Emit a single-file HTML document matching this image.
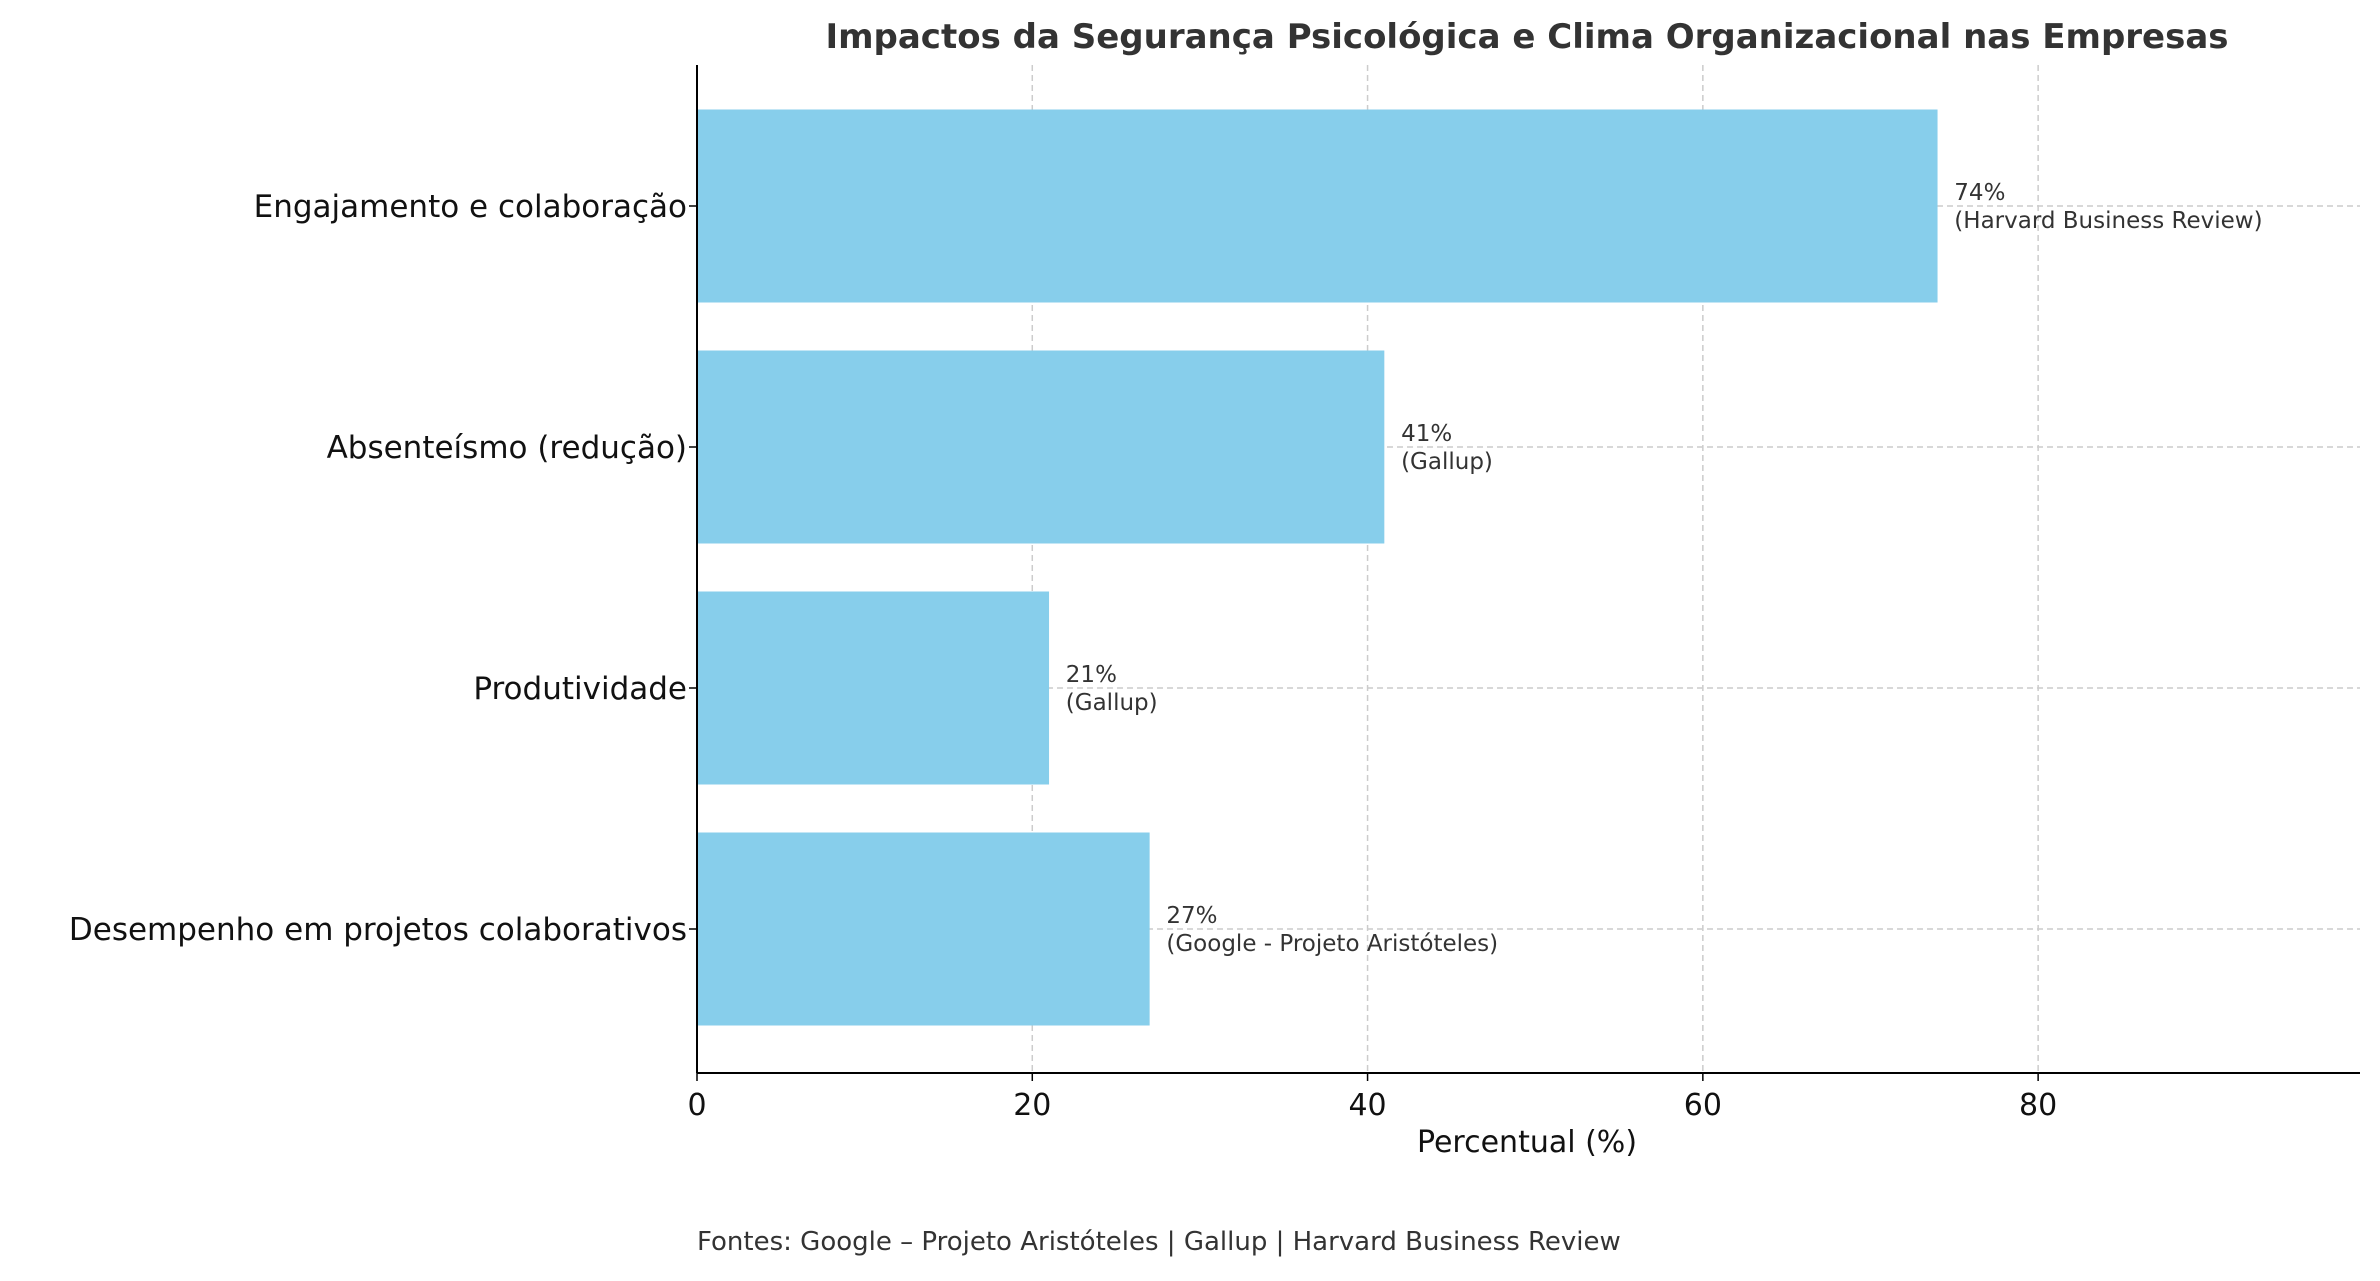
<!DOCTYPE html>
<html><head><meta charset="utf-8"><style>
body{margin:0;background:#fff;}
svg text{font-family:"DejaVu Sans","Liberation Sans",sans-serif;}
</style></head><body>
<svg width="2380" height="1276" xmlns="http://www.w3.org/2000/svg">
<script>
const categories=["Engajamento e colaboração","Absenteísmo (redução)","Produtividade","Desempenho em projetos colaborativos"];
const values=[74,41,21,27];
const sources=["(Harvard Business Review)","(Gallup)","(Gallup)","(Google - Projeto Aristóteles)"];
const xTicks=[0,20,40,60,80];
</script>
<text x="1527" y="48" text-anchor="middle" font-size="34" font-weight="bold" fill="#333">Impactos da Segurança Psicológica e Clima Organizacional nas Empresas</text>
<g id="plot"></g>
<text x="1527" y="1152" text-anchor="middle" font-size="30" fill="#111">Percentual (%)</text>
<text x="697" y="1250" font-size="26" fill="#333">Fontes: Google – Projeto Aristóteles | Gallup | Harvard Business Review</text>
<script>
const NS="http://www.w3.org/2000/svg";
const L=697,R=2360,T=65,B=1073,XMAX=99.2;
const x=v=>L+(R-L)*v/XMAX;
const step=241,y0=206;
const y=i=>y0+i*step;
const g=document.getElementById('plot');
function mk(t,a){const e=document.createElementNS(NS,t);for(const k in a)e.setAttribute(k,a[k]);g.appendChild(e);return e;}
xTicks.forEach(t=>{
 const l=mk('line',{x1:x(t),x2:x(t),y1:T,y2:B,stroke:'#ccc','stroke-width':1.5,'stroke-dasharray':'6,4'});
 
 
});
categories.forEach((c,i)=>{
 const l=mk('line',{x1:L,x2:R,y1:y(i),y2:y(i),stroke:'#ccc','stroke-width':1.5,'stroke-dasharray':'6,4'});
 
 
});
categories.forEach((c,i)=>{
 const b=mk('rect',{x:L,y:y(i)-96.5,width:x(values[i])-L,height:193,fill:'#87CEEB'});
 
 
 const t=mk('text',{x:L-10,y:y(i)+11,'text-anchor':'end','font-size':31,fill:'#111'});
 t.textContent=c;
 
 
 const tk=mk('line',{x1:L-8,x2:L,y1:y(i),y2:y(i),stroke:'#000','stroke-width':1.5});
 
 
 const a=mk('text',{x:x(values[i]+1),y:y(i)-6,'font-size':23,fill:'#333'});
 a.textContent=values[i]+'%';
 
 
 const s=mk('text',{x:x(values[i]+1),y:y(i)+22,'font-size':23,fill:'#333'});
 s.textContent=sources[i];
 
 
});
xTicks.forEach(t=>{
 const tk=mk('line',{x1:x(t),x2:x(t),y1:B,y2:B+8,stroke:'#000','stroke-width':1.5});
 
 
 const tl=mk('text',{x:x(t),y:B+42,'text-anchor':'middle','font-size':30,fill:'#111'});
 tl.textContent=t;
 
 
});
const ax=mk('line',{x1:L,x2:L,y1:T,y2:B,stroke:'#000','stroke-width':2});


const bx=mk('line',{x1:L,x2:R,y1:B,y2:B,stroke:'#000','stroke-width':2});


</script>
</svg>
</body></html>
